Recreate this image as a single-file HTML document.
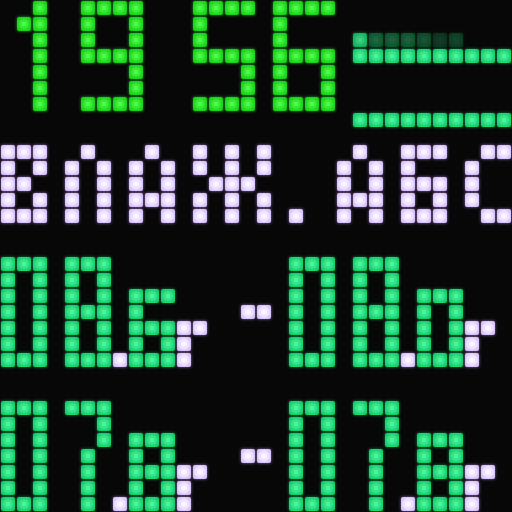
<!DOCTYPE html>
<html><head><meta charset="utf-8"><style>
html,body{margin:0;padding:0;background:#060606;}
#board{position:relative;width:512px;height:512px;background:#070707;overflow:hidden;}
.led{position:absolute;width:14px;height:14px;border-radius:2px;}
.g{background:radial-gradient(circle,#5cff5c 0%,#22e022 55%,#14b814 100%);box-shadow:0 0 3px #1a9a1a;}
.t{background:radial-gradient(circle,#5cf5a5 0%,#1fdd78 55%,#12b45c 100%);box-shadow:0 0 3px #0f8a4a;}
.p{background:radial-gradient(circle,#ffffff 0%,#eadcff 50%,#c6a8ee 100%);box-shadow:0 0 3px #8a6aaa;}
</style></head><body>
<div id="board"></div>
<script>
const G = {
  one:[".X","XX",".X",".X",".X",".X",".X"],
  nine:["XXXX","X..X","X..X","XXXX","...X","...X","XXXX"],
  five:["XXXX","X...","X...","XXXX","...X","...X","XXXX"],
  six:["XXXX","X...","X...","XXXX","X..X","X..X","XXXX"],
  bar10:["XXXXXXXXXX"],
  bar7:["XXXXXXX"],
  Ve:["XXX","X.X","XX.","X.X","XXX"],
  El:[".X.","X.X","X.X","X.X","X.X"],
  A:[".X.","X.X","X.X","XXX","X.X"],
  Zh:["X.X.X","X.X.X",".XXX.","X.X.X","X.X.X"],
  dot:["X"],
  Be:["XXX","X..","XXX","X.X","XXX"],
  Es:[".XX","X..","X..","X..",".XX"],
  zero:["XXX","X.X","X.X","X.X","X.X","X.X","XXX"],
  eight:["XXX","X.X","X.X","XXX","X.X","X.X","XXX"],
  seven:["XXX","..X","..X",".X.",".X.",".X.",".X."],
  sb:["XXX","X..","XXX","X.X","XXX"],
  so:["XXX","X.X","X.X","X.X","XXX"],
  sv:["XXX","X.X","XXX","X.X","XXX"],
  ge:["XX","X.","X."],
  dash:["XX"]
};
// [glyph, col, row, colour]
const placements = [
  ["one",1,0,"g"],["nine",5,0,"g"],["five",12,0,"g"],["six",17,0,"g"],
  ["bar7",22,2,"d"],["bar10",22,3,"t"],["bar10",22,7,"t"],
  ["Ve",0,9,"p"],["El",4,9,"p"],["A",8,9,"p"],["Zh",12,9,"p"],["dot",18,13,"p"],
  ["A",21,9,"p"],["Be",25,9,"p"],["Es",29,9,"p"],
  ["zero",0,16,"t"],["eight",4,16,"t"],["dot",7,22,"p"],["sb",8,18,"t"],["ge",11,20,"p"],
  ["dash",15,19,"p"],
  ["zero",18,16,"t"],["eight",22,16,"t"],["dot",25,22,"p"],["so",26,18,"t"],["ge",29,20,"p"],
  ["zero",0,25,"t"],["seven",4,25,"t"],["dot",7,31,"p"],["sv",8,27,"t"],["ge",11,29,"p"],
  ["dash",15,28,"p"],
  ["zero",18,25,"t"],["seven",22,25,"t"],["dot",25,31,"p"],["sv",26,27,"t"],["ge",29,29,"p"]
];
const dimOpacity = [0.85,0.4,0.38,0.38,0.32,0.22,0.26];
const board = document.getElementById('board');
placements.forEach(([name,c0,r0,col]) => {
  G[name].forEach((line, dr) => {
    for (let dc = 0; dc < line.length; dc++) {
      if (line[dc] !== 'X') continue;
      const el = document.createElement('div');
      
      
      el.className = 'led ' + (col === 'd' ? 't' : col);
      el.style.left = ((c0 + dc) * 16 + 1) + 'px';
      el.style.top = ((r0 + dr) * 16 + 1) + 'px';
      if (col === 'd') el.style.opacity = dimOpacity[dc];
      board.appendChild(el);
    }
  });
});
</script>
</body></html>
